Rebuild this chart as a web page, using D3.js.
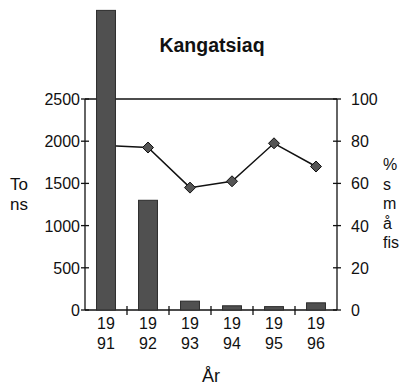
<!DOCTYPE html>
<html><head><meta charset="utf-8">
<script src="https://cdn.jsdelivr.net/npm/d3@7"></script>
<style>body{margin:0;background:#fff}svg{display:block}text{font-family:"Liberation Sans",Arial,sans-serif;fill:#111}</style>
</head><body>
<svg id="c" width="403" height="387"></svg>
<script>
const years = ["1991","1992","1993","1994","1995","1996"];
const tons = [3550, 1300, 105, 50, 40, 85];
const pctSmall = [78, 77, 58, 61, 79, 68];
const leftTicks = [0, 500, 1000, 1500, 2000, 2500];
const rightTicks = [0, 20, 40, 60, 80, 100];
const title = "Kangatsiaq";
const leftLabel = ["To", "ns"];
const rightLabel = ["%", "s", "m", "å", "fis"];
const xLabel = "År";

const svg = d3.select("#c");
const L = 85, R = 337, T = 99, B = 310;
const x = d3.scaleBand().domain(years).range([L, R]).paddingInner(0.55).paddingOuter(0.275);
const xb = d3.scaleBand().domain(years).range([L, R]);
const y = d3.scaleLinear().domain([0, 2500]).range([B, T]);
const y2 = d3.scaleLinear().domain([0, 100]).range([B, T]);
const FS = 16;

// top frame line
svg.append("line").attr("x1", L).attr("x2", R).attr("y1", T).attr("y2", T)
  .attr("stroke", "#111").attr("stroke-width", 1.3);

// left axis
const gl = svg.append("g").attr("transform", `translate(${L},0)`);
gl.append("line").attr("y1", T).attr("y2", B).attr("stroke", "#111").attr("stroke-width", 1.3);
leftTicks.forEach(v => {
  gl.append("line").attr("x1", -4).attr("x2", 4).attr("y1", y(v)).attr("y2", y(v)).attr("stroke", "#111").attr("stroke-width", 1.3);
  gl.append("text").attr("x", -5).attr("y", y(v) + 6).attr("text-anchor", "end").attr("font-size", FS).text(v);
});

// right axis
const gr = svg.append("g").attr("transform", `translate(${R},0)`);
gr.append("line").attr("y1", T).attr("y2", B).attr("stroke", "#111").attr("stroke-width", 1.3);
rightTicks.forEach(v => {
  gr.append("line").attr("x1", -4).attr("x2", 4).attr("y1", y2(v)).attr("y2", y2(v)).attr("stroke", "#111").attr("stroke-width", 1.3);
  gr.append("text").attr("x", 14).attr("y", y2(v) + 6).attr("text-anchor", "start").attr("font-size", FS).text(v);
});

// x axis
const gx = svg.append("g");
gx.append("line").attr("x1", L).attr("x2", R).attr("y1", B).attr("y2", B).attr("stroke", "#111").attr("stroke-width", 1.3);
years.slice(1).forEach(d => {
  gx.append("line").attr("x1", xb(d)).attr("x2", xb(d)).attr("y1", B - 4).attr("y2", B + 5).attr("stroke", "#111").attr("stroke-width", 1.3);
});
years.forEach(d => {
  const cx = xb(d) + xb.bandwidth() / 2;
  gx.append("text").attr("x", cx).attr("y", 329).attr("text-anchor", "middle").attr("font-size", FS).text(d.slice(0, 2));
  gx.append("text").attr("x", cx).attr("y", 349).attr("text-anchor", "middle").attr("font-size", FS).text(d.slice(2));
});

// line series
const line = d3.line().x((d, i) => xb(years[i]) + xb.bandwidth() / 2).y(d => y2(d));
svg.append("path").datum(pctSmall).attr("d", line).attr("fill", "none").attr("stroke", "#111").attr("stroke-width", 1.5);
svg.selectAll("path.m").data(pctSmall).join("path")
  .attr("transform", (d, i) => `translate(${xb(years[i]) + xb.bandwidth() / 2},${y2(d)})`)
  .attr("d", "M0,-5.5L5.5,0L0,5.5L-5.5,0Z")
  .attr("fill", "#555").attr("stroke", "#111").attr("stroke-width", 1);

// bars (drawn on top, as in the reference)
svg.selectAll("rect.bar").data(years).join("rect")
  .attr("x", d => x(d)).attr("width", x.bandwidth())
  .attr("y", (d, i) => y(tons[i])).attr("height", (d, i) => y(0) - y(tons[i]))
  .attr("fill", "#505050").attr("stroke", "#2a2a2a").attr("stroke-width", 1);

// titles
svg.append("text").attr("x", 212).attr("y", 52).attr("text-anchor", "middle").attr("font-size", 19.5).attr("font-weight", "bold").text(title);
leftLabel.forEach((t, i) => svg.append("text").attr("x", 10).attr("y", 190 + i * 20).attr("font-size", 17).text(t));
rightLabel.forEach((t, i) => svg.append("text").attr("x", 383).attr("y", 170 + i * 19.5).attr("font-size", 16).text(t));
svg.append("text").attr("x", 211).attr("y", 382).attr("text-anchor", "middle").attr("font-size", 18).text(xLabel);
</script>
</body></html>
